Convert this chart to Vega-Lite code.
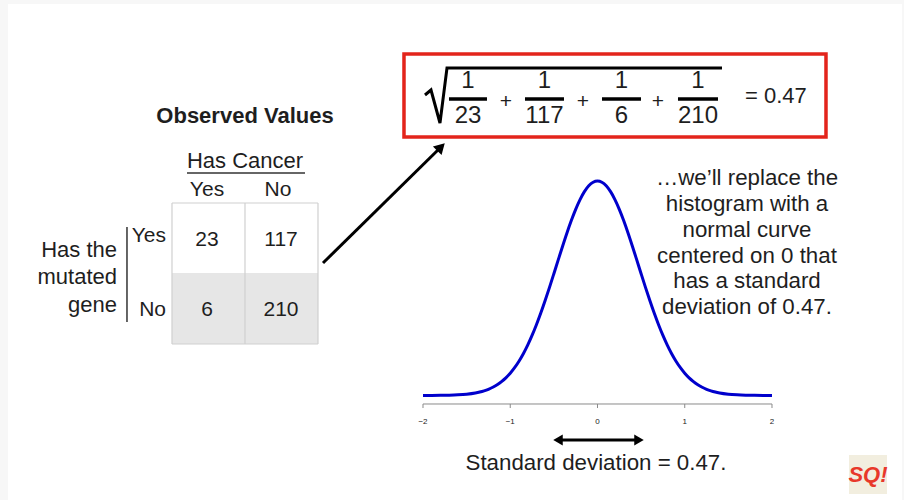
{
  "$schema": "https://vega.github.io/schema/vega-lite/v6.json",
  "width": 904,
  "height": 500,
  "autosize": {"type": "fit", "contains": "padding"},
  "padding": 0,
  "background": "#f7f7f7",
  "config": {"view": {"stroke": null}, "text": {"font": "Liberation Sans", "color": "#1e1e1e"}},
  "encoding": {
    "x": {"field": "x", "type": "quantitative", "axis": null, "scale": {"domain": [-6.848, 3.513], "nice": false, "zero": false}},
    "y": {"field": "y", "type": "quantitative", "axis": null, "scale": {"domain": [-0.4135, 1.5651], "nice": false, "zero": false}}
  },
  "layer": [
    {
      "data": {"values": [{"x": -6.7564, "x2": 3.49, "y": 1.5493, "y2": -0.4135}]},
      "mark": {"type": "rect", "fill": "#ffffff"},
      "encoding": {"x2": {"field": "x2"}, "y2": {"field": "y2"}}
    },
    {
      "data": {"values": [{"x": -2.2178, "x2": 2.6189, "y": 1.3514, "y2": 1.023}]},
      "mark": {"type": "rect", "fill": "#ffffff", "stroke": "#e3241b", "strokeWidth": 3.5},
      "encoding": {"x2": {"field": "x2"}, "y2": {"field": "y2"}}
    },
    {
      "data": {"values": [
        {"o": 1, "x": -1.9771, "y": 1.1892},
        {"o": 2, "x": -1.9083, "y": 1.2089},
        {"o": 3, "x": -1.8052, "y": 1.0784},
        {"o": 4, "x": -1.7249, "y": 1.296},
        {"o": 5, "x": 1.4269, "y": 1.296}
      ]},
      "mark": {"type": "line", "color": "#000000", "strokeWidth": 3, "strokeJoin": "miter"},
      "encoding": {"order": {"field": "o"}}
    },
    {
      "data": {"values": [
        {"x": -1.702, "x2": -1.2665, "y": 1.1733},
        {"x": -0.8309, "x2": -0.384, "y": 1.1733},
        {"x": 0.0516, "x2": 0.4986, "y": 1.1733},
        {"x": 0.9226, "x2": 1.3811, "y": 1.1733}
      ]},
      "mark": {"type": "rule", "color": "#000000", "strokeWidth": 3.5},
      "encoding": {"x2": {"field": "x2"}}
    },
    {
      "data": {"values": [
        {"x": -1.4842, "y": 1.2446, "t": "1"},
        {"x": -0.6074, "y": 1.2446, "t": "1"},
        {"x": 0.2751, "y": 1.2446, "t": "1"},
        {"x": 1.1519, "y": 1.2446, "t": "1"},
        {"x": -1.4842, "y": 1.108, "t": "23"},
        {"x": -0.6074, "y": 1.108, "t": "117"},
        {"x": 0.2751, "y": 1.108, "t": "6"},
        {"x": 1.1519, "y": 1.108, "t": "210"}
      ]},
      "mark": {"type": "text", "fontSize": 24, "align": "center", "baseline": "middle"},
      "encoding": {"text": {"field": "t"}}
    },
    {
      "data": {"values": [
        {"x": -1.0487, "y": 1.1615, "t": "+"},
        {"x": -0.1662, "y": 1.1615, "t": "+"},
        {"x": 0.6934, "y": 1.1615, "t": "+"}
      ]},
      "mark": {"type": "text", "fontSize": 21, "align": "center", "baseline": "middle"},
      "encoding": {"text": {"field": "t"}}
    },
    {
      "data": {"values": [{"x": 1.6905, "y": 1.1852, "t": "= 0.47"}]},
      "mark": {"type": "text", "fontSize": 22, "align": "left", "baseline": "middle"},
      "encoding": {"text": {"field": "t"}}
    },
    {
      "data": {"values": [{"x": -4.0401, "y": 1.1061, "t": "Observed Values"}]},
      "mark": {"type": "text", "fontSize": 22, "fontWeight": "bold", "align": "center", "baseline": "middle"},
      "encoding": {"text": {"field": "t"}}
    },
    {
      "data": {"values": [{"x": -4.8768, "x2": -3.2034, "y": 0.4848, "y2": 0.2038}]},
      "mark": {"type": "rect", "fill": "#e6e6e6"},
      "encoding": {"x2": {"field": "x2"}, "y2": {"field": "y2"}}
    },
    {
      "data": {"values": [
        {"x": -4.0401, "y": 0.7618, "y2": 0.2038},
        {"x": -4.8768, "y": 0.7618, "y2": 0.2038},
        {"x": -3.2034, "y": 0.7618, "y2": 0.2038}
      ]},
      "mark": {"type": "rule", "color": "#d0d0d0", "strokeWidth": 1.2},
      "encoding": {"y2": {"field": "y2"}}
    },
    {
      "data": {"values": [
        {"x": -4.8768, "x2": -3.2034, "y": 0.7618},
        {"x": -4.8768, "x2": -3.2034, "y": 0.2038}
      ]},
      "mark": {"type": "rule", "color": "#d0d0d0", "strokeWidth": 1.2},
      "encoding": {"x2": {"field": "x2"}}
    },
    {
      "data": {"values": [{"x": -4.7049, "x2": -3.3524, "y": 0.8805}]},
      "mark": {"type": "rule", "color": "#333333", "strokeWidth": 1.5},
      "encoding": {"x2": {"field": "x2"}}
    },
    {
      "data": {"values": [{"x": -5.3926, "y": 0.6668, "y2": 0.2909}]},
      "mark": {"type": "rule", "color": "#333333", "strokeWidth": 1.5},
      "encoding": {"y2": {"field": "y2"}}
    },
    {
      "data": {"values": [
        {"x": -4.0401, "y": 0.928, "t": "Has Cancer"}
      ]},
      "mark": {"type": "text", "fontSize": 22, "align": "center", "baseline": "middle"},
      "encoding": {"text": {"field": "t"}}
    },
    {
      "data": {"values": [
        {"x": -4.4756, "y": 0.8132, "t": "Yes"},
        {"x": -3.6619, "y": 0.8132, "t": "No"},
        {"x": -4.4756, "y": 0.6153, "t": "23"},
        {"x": -3.6275, "y": 0.6153, "t": "117"},
        {"x": -4.4756, "y": 0.3383, "t": "6"},
        {"x": -3.6275, "y": 0.3383, "t": "210"}
      ]},
      "mark": {"type": "text", "fontSize": 21, "align": "center", "baseline": "middle"},
      "encoding": {"text": {"field": "t"}}
    },
    {
      "data": {"values": [
        {"x": -4.9456, "y": 0.6312, "t": "Yes"},
        {"x": -4.9456, "y": 0.3383, "t": "No"}
      ]},
      "mark": {"type": "text", "fontSize": 21, "align": "right", "baseline": "middle"},
      "encoding": {"text": {"field": "t"}}
    },
    {
      "data": {"values": [
        {"x": -5.5072, "y": 0.5758, "t": "Has the"},
        {"x": -5.5072, "y": 0.4689, "t": "mutated"},
        {"x": -5.5072, "y": 0.3581, "t": "gene"}
      ]},
      "mark": {"type": "text", "fontSize": 22, "align": "right", "baseline": "middle"},
      "encoding": {"text": {"field": "t"}}
    },
    {
      "data": {"values": [{"x": -3.1461, "y": 0.5243, "x2": -1.8052, "y2": 0.9794}]},
      "mark": {"type": "rule", "color": "#000000", "strokeWidth": 3},
      "encoding": {"x2": {"field": "x2"}, "y2": {"field": "y2"}}
    },
    {
      "data": {"values": [{"x": -1.7937, "y": 0.9834}]},
      "mark": {"type": "point", "shape": "triangle-up", "angle": 45, "filled": true, "color": "#000000", "size": 150, "opacity": 1}
    },
    {
      "data": {"values": [
        {"x": -2, "y": 0.0001}, {"x": -1.9, "y": 0.0002}, {"x": -1.8, "y": 0.0006}, {"x": -1.7, "y": 0.0012},
        {"x": -1.6, "y": 0.0026}, {"x": -1.5, "y": 0.0052}, {"x": -1.4, "y": 0.01}, {"x": -1.35, "y": 0.0137},
        {"x": -1.3, "y": 0.0185}, {"x": -1.25, "y": 0.0247}, {"x": -1.2, "y": 0.0326}, {"x": -1.15, "y": 0.0425},
        {"x": -1.1, "y": 0.0549}, {"x": -1.05, "y": 0.07}, {"x": -1.0, "y": 0.0883}, {"x": -0.95, "y": 0.1101},
        {"x": -0.9, "y": 0.1357}, {"x": -0.85, "y": 0.1654}, {"x": -0.8, "y": 0.1994}, {"x": -0.75, "y": 0.2376},
        {"x": -0.7, "y": 0.28}, {"x": -0.65, "y": 0.3262}, {"x": -0.6, "y": 0.3758}, {"x": -0.55, "y": 0.428},
        {"x": -0.5, "y": 0.482}, {"x": -0.45, "y": 0.5367}, {"x": -0.4, "y": 0.5909}, {"x": -0.35, "y": 0.6433},
        {"x": -0.3, "y": 0.6924}, {"x": -0.25, "y": 0.7368}, {"x": -0.2, "y": 0.7753}, {"x": -0.15, "y": 0.8066},
        {"x": -0.1, "y": 0.8298}, {"x": -0.05, "y": 0.844}, {"x": 0, "y": 0.8488},
        {"x": 0.05, "y": 0.844}, {"x": 0.1, "y": 0.8298}, {"x": 0.15, "y": 0.8066}, {"x": 0.2, "y": 0.7753},
        {"x": 0.25, "y": 0.7368}, {"x": 0.3, "y": 0.6924}, {"x": 0.35, "y": 0.6433}, {"x": 0.4, "y": 0.5909},
        {"x": 0.45, "y": 0.5367}, {"x": 0.5, "y": 0.482}, {"x": 0.55, "y": 0.428}, {"x": 0.6, "y": 0.3758},
        {"x": 0.65, "y": 0.3262}, {"x": 0.7, "y": 0.28}, {"x": 0.75, "y": 0.2376}, {"x": 0.8, "y": 0.1994},
        {"x": 0.85, "y": 0.1654}, {"x": 0.9, "y": 0.1357}, {"x": 0.95, "y": 0.1101}, {"x": 1.0, "y": 0.0883},
        {"x": 1.05, "y": 0.07}, {"x": 1.1, "y": 0.0549}, {"x": 1.15, "y": 0.0425}, {"x": 1.2, "y": 0.0326},
        {"x": 1.25, "y": 0.0247}, {"x": 1.3, "y": 0.0185}, {"x": 1.35, "y": 0.0137}, {"x": 1.4, "y": 0.01},
        {"x": 1.5, "y": 0.0052}, {"x": 1.6, "y": 0.0026}, {"x": 1.7, "y": 0.0012}, {"x": 1.8, "y": 0.0006},
        {"x": 1.9, "y": 0.0002}, {"x": 2.0, "y": 0.0001}
      ]},
      "mark": {"type": "line", "color": "#0000cc", "strokeWidth": 3, "interpolate": "monotone"}
    },
    {
      "data": {"values": [{"x": -2, "x2": 2, "y": -0.0336}]},
      "mark": {"type": "rule", "color": "#8a8a8a", "strokeWidth": 1},
      "encoding": {"x2": {"field": "x2"}}
    },
    {
      "data": {"values": [
        {"x": -2, "y": -0.0336, "y2": -0.0495},
        {"x": -1, "y": -0.0336, "y2": -0.0495},
        {"x": 0, "y": -0.0336, "y2": -0.0495},
        {"x": 1, "y": -0.0336, "y2": -0.0495},
        {"x": 2, "y": -0.0336, "y2": -0.0495}
      ]},
      "mark": {"type": "rule", "color": "#8a8a8a", "strokeWidth": 1},
      "encoding": {"y2": {"field": "y2"}}
    },
    {
      "data": {"values": [
        {"x": -2, "y": -0.1049, "t": "−2"},
        {"x": -1, "y": -0.1049, "t": "−1"},
        {"x": 0, "y": -0.1049, "t": "0"},
        {"x": 1, "y": -0.1049, "t": "1"},
        {"x": 2, "y": -0.1049, "t": "2"}
      ]},
      "mark": {"type": "text", "fontSize": 8, "align": "center", "baseline": "middle", "color": "#222222"},
      "encoding": {"text": {"field": "t"}}
    },
    {
      "data": {"values": [{"x": -0.4298, "x2": 0.4527, "y": -0.1761}]},
      "mark": {"type": "rule", "color": "#000000", "strokeWidth": 3},
      "encoding": {"x2": {"field": "x2"}}
    },
    {
      "data": {"values": [{"x": -0.4527, "y": -0.1761}]},
      "mark": {"type": "point", "shape": "triangle-left", "filled": true, "color": "#000000", "size": 120, "opacity": 1}
    },
    {
      "data": {"values": [{"x": 0.4756, "y": -0.1761}]},
      "mark": {"type": "point", "shape": "triangle-right", "filled": true, "color": "#000000", "size": 120, "opacity": 1}
    },
    {
      "data": {"values": [{"x": -0.0172, "y": -0.2671, "t": "Standard deviation = 0.47."}]},
      "mark": {"type": "text", "fontSize": 22.3, "align": "center", "baseline": "middle"},
      "encoding": {"text": {"field": "t"}}
    },
    {
      "data": {"values": [
        {"x": 1.7135, "y": 0.8607, "t": "…we’ll replace the"},
        {"x": 1.7135, "y": 0.7578, "t": "histogram with a"},
        {"x": 1.7135, "y": 0.6549, "t": "normal curve"},
        {"x": 1.7135, "y": 0.552, "t": "centered on 0 that"},
        {"x": 1.7135, "y": 0.4531, "t": "has a standard"},
        {"x": 1.7135, "y": 0.3502, "t": "deviation of 0.47."}
      ]},
      "mark": {"type": "text", "fontSize": 22.3, "align": "center", "baseline": "middle"},
      "encoding": {"text": {"field": "t"}}
    },
    {
      "data": {"values": [{"x": 2.8825, "x2": 3.3181, "y": -0.2354, "y2": -0.3899}]},
      "mark": {"type": "rect", "fill": "#f2eedf"},
      "encoding": {"x2": {"field": "x2"}, "y2": {"field": "y2"}}
    },
    {
      "data": {"values": [{"x": 3.1003, "y": -0.3146, "t": "SQ!"}]},
      "mark": {"type": "text", "fontSize": 22, "fontWeight": "bold", "fontStyle": "italic", "align": "center", "baseline": "middle", "color": "#e8382a"},
      "encoding": {"text": {"field": "t"}}
    }
  ]
}
